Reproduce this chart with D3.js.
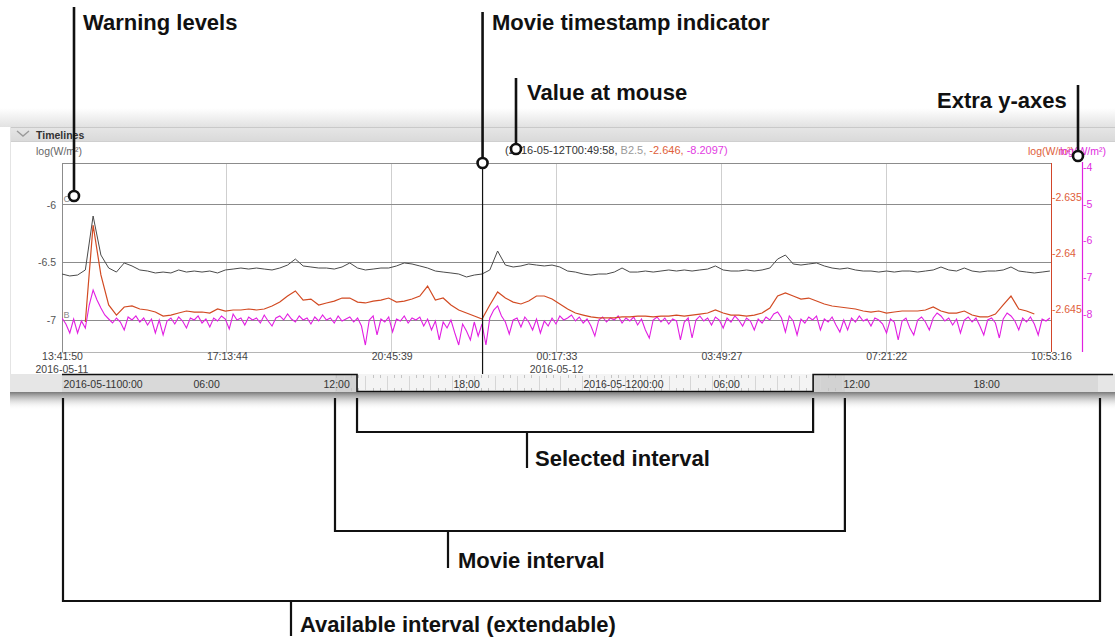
<!DOCTYPE html>
<html><head><meta charset="utf-8">
<script src="https://cdn.jsdelivr.net/npm/d3@7"></script>
<style>
html,body{margin:0;padding:0;background:#fff;}
svg{display:block;font-family:"Liberation Sans",Arial,Helvetica,sans-serif;}
</style></head><body>
<svg id="c" width="1115" height="639"></svg>
<script>
// ---------- data ----------
const plotStart = "2016-05-11T13:41:50Z";
const plotEnd   = "2016-05-12T10:53:16Z";
const xTickTimes = ["2016-05-11T13:41:50Z","2016-05-11T17:13:44Z","2016-05-11T20:45:39Z","2016-05-12T00:17:33Z","2016-05-12T03:49:27Z","2016-05-12T07:21:22Z","2016-05-12T10:53:16Z"];
const xTickDates = ["2016-05-11","","","2016-05-12","","",""];
const leftTicks = [-6, -6.5, -7];
const leftTickLabels = ["-6","-6.5","-7"];
const warningLevels = [{label:"C", value:-6},{label:"B", value:-7}];
const redTicks = [-2.635, -2.64, -2.645];
const redTickLabels = ["-2.635","-2.64","-2.645"];
const magTicks = [-4, -5, -6, -7, -8];
const magTickLabels = ["-4","-5","-6","-7","-8"];

// grey series (left axis), 10-minute samples from plotStart
const greyStart = "2016-05-11T13:41:50Z", greyStepMin = 10;
const greyValues = [
-6.600,-6.617,-6.609,-6.565,-6.096,-6.435,-6.548,-6.583,-6.504,-6.530,
-6.565,-6.574,-6.591,-6.583,-6.591,-6.565,-6.583,-6.574,-6.583,-6.574,
-6.591,-6.565,-6.557,-6.548,-6.557,-6.548,-6.557,-6.565,-6.548,-6.522,
-6.470,-6.530,-6.539,-6.548,-6.548,-6.557,-6.539,-6.504,-6.548,-6.565,
-6.557,-6.548,-6.548,-6.530,-6.504,-6.513,-6.530,-6.548,-6.574,-6.583,
-6.591,-6.600,-6.626,-6.609,-6.600,-6.565,-6.400,-6.522,-6.539,-6.530,
-6.513,-6.522,-6.530,-6.522,-6.539,-6.574,-6.583,-6.600,-6.609,-6.600,
-6.600,-6.583,-6.548,-6.583,-6.583,-6.574,-6.583,-6.574,-6.565,-6.574,
-6.565,-6.574,-6.565,-6.557,-6.530,-6.565,-6.574,-6.574,-6.565,-6.574,
-6.565,-6.548,-6.470,-6.435,-6.513,-6.522,-6.513,-6.504,-6.530,-6.548,
-6.557,-6.548,-6.565,-6.574,-6.574,-6.583,-6.574,-6.583,-6.574,-6.574,
-6.583,-6.574,-6.565,-6.539,-6.565,-6.574,-6.548,-6.574,-6.583,-6.574,
-6.574,-6.565,-6.539,-6.574,-6.583,-6.591,-6.583,-6.574];

// orange series (red right axis), 10-minute samples
const orangeStart = "2016-05-11T14:11:50Z", orangeStepMin = 10;
const orangeValues = [
-2.64616,-2.63750,-2.64196,-2.64464,-2.64554,-2.64482,-2.64473,-2.64500,-2.64509,-2.64527,
-2.64563,-2.64554,-2.64536,-2.64518,-2.64527,-2.64527,-2.64536,-2.64500,-2.64518,-2.64509,
-2.64509,-2.64500,-2.64509,-2.64500,-2.64473,-2.64438,-2.64384,-2.64339,-2.64420,-2.64411,
-2.64464,-2.64446,-2.64429,-2.64402,-2.64402,-2.64438,-2.64446,-2.64429,-2.64420,-2.64402,
-2.64438,-2.64429,-2.64411,-2.64384,-2.64295,-2.64420,-2.64402,-2.64464,-2.64509,-2.64536,
-2.64563,-2.64589,-2.64464,-2.64348,-2.64402,-2.64438,-2.64455,-2.64429,-2.64384,-2.64384,
-2.64411,-2.64455,-2.64500,-2.64536,-2.64554,-2.64571,-2.64580,-2.64580,-2.64580,-2.64571,
-2.64571,-2.64563,-2.64563,-2.64571,-2.64563,-2.64563,-2.64554,-2.64563,-2.64554,-2.64545,
-2.64536,-2.64509,-2.64536,-2.64554,-2.64554,-2.64563,-2.64554,-2.64536,-2.64491,-2.64384,
-2.64357,-2.64384,-2.64411,-2.64402,-2.64429,-2.64455,-2.64473,-2.64482,-2.64491,-2.64500,
-2.64518,-2.64527,-2.64518,-2.64536,-2.64527,-2.64518,-2.64518,-2.64518,-2.64509,-2.64482,
-2.64518,-2.64536,-2.64536,-2.64518,-2.64554,-2.64571,-2.64571,-2.64545,-2.64464,-2.64384,
-2.64500,-2.64518,-2.64545];

// magenta series (magenta right axis), 5-minute samples
const magStart = "2016-05-11T13:41:50Z", magStepMin = 5;
const magValues = [
-8.109,-8.272,-8.517,-8.136,-8.517,-8.190,-8.381,-7.755,-7.347,-7.619,
-7.837,-8.027,-8.136,-8.245,-8.109,-8.218,-8.435,-8.082,-8.163,-8.054,
-8.218,-8.109,-8.299,-8.136,-8.517,-8.163,-8.571,-8.190,-8.109,-8.272,
-8.082,-8.190,-8.381,-8.109,-8.163,-8.054,-8.245,-8.136,-8.354,-8.109,
-8.190,-8.054,-8.136,-8.408,-8.000,-8.163,-8.109,-8.299,-8.082,-8.163,
-8.109,-8.245,-8.027,-8.190,-8.327,-8.109,-8.054,-8.163,-8.000,-8.136,
-8.218,-8.054,-8.163,-8.109,-8.272,-8.082,-8.190,-8.027,-8.163,-8.109,
-8.245,-8.054,-8.190,-8.136,-8.082,-8.218,-8.109,-8.327,-8.844,-8.163,
-8.054,-8.571,-8.136,-8.218,-8.082,-8.490,-8.136,-8.190,-8.054,-8.245,
-8.109,-8.163,-8.082,-8.327,-8.136,-8.435,-8.190,-8.707,-8.218,-8.381,
-8.163,-8.517,-8.844,-8.272,-8.463,-8.707,-8.218,-8.599,-8.272,-8.844,
-8.109,-7.891,-7.782,-8.054,-8.218,-8.544,-8.163,-8.109,-8.354,-8.082,
-8.218,-8.435,-8.136,-8.517,-8.190,-8.327,-8.109,-8.272,-8.054,-8.163,
-8.109,-8.027,-8.190,-8.082,-8.245,-8.136,-8.327,-8.599,-8.163,-8.082,
-8.218,-8.109,-8.163,-8.054,-8.245,-8.109,-8.190,-8.082,-8.299,-8.136,
-8.435,-8.653,-8.163,-8.082,-8.218,-8.109,-8.272,-8.136,-8.190,-8.707,
-8.218,-8.109,-8.653,-8.163,-8.054,-8.190,-8.109,-8.299,-8.082,-8.163,
-8.381,-8.109,-8.218,-8.054,-8.163,-8.327,-8.109,-8.190,-8.435,-8.136,
-8.245,-8.082,-8.163,-8.000,-7.946,-8.109,-8.490,-8.054,-8.190,-8.571,
-8.136,-8.245,-8.082,-8.163,-8.054,-8.435,-8.136,-8.218,-8.082,-8.299,
-8.490,-8.163,-8.435,-8.109,-8.218,-8.054,-8.190,-8.136,-8.327,-8.109,
-8.163,-8.272,-8.517,-8.136,-8.218,-8.707,-8.190,-8.109,-8.381,-8.571,
-8.163,-8.082,-8.218,-8.435,-8.109,-7.973,-8.054,-8.190,-8.109,-8.299,
-8.136,-8.517,-8.163,-8.082,-8.218,-8.109,-8.327,-8.571,-8.163,-8.109,
-8.245,-8.653,-8.136,-7.973,-8.054,-8.190,-8.435,-8.109,-8.218,-8.082,
-8.272,-8.571,-8.136,-8.190,-8.109];

const movieTime = "2016-05-11T22:42:30Z";
const mouseParts = [["(2016-05-12T00:49:58, ","#333"],["B2.5, ","#999"],["-2.646, ","#e0603a"],["-8.2097)","#e23ce2"]];

const barStart = "2016-05-11T00:00:00Z", barEnd = "2016-05-13T00:00:00Z";
const barTickTimes = ["2016-05-11T00:00:00Z","2016-05-11T06:00:00Z","2016-05-11T12:00:00Z","2016-05-11T18:00:00Z","2016-05-12T00:00:00Z","2016-05-12T06:00:00Z","2016-05-12T12:00:00Z","2016-05-12T18:00:00Z"];
const barTickLabels = ["2016-05-1100:00","06:00","12:00","18:00","2016-05-1200:00","06:00","12:00","18:00"];
const selectedInterval = ["2016-05-11T13:37:00Z","2016-05-12T10:40:00Z"];
const movieInterval = ["2016-05-11T12:36:00Z","2016-05-12T12:08:00Z"];
const availableInterval = ["2016-05-11T00:00:00Z","2016-05-13T00:00:00Z"];

// ---------- drawing ----------
const P = d3.isoParse;
const svg = d3.select("#c");
const L = 62, R = 1051, T = 163, B = 352;
const x = d3.scaleUtc().domain([P(plotStart), P(plotEnd)]).range([L, R]);
const yL = d3.scaleLinear().domain([-7.278, -5.635]).range([B, T]);
const yR = d3.scaleLinear().domain([-2.64884, -2.63196]).range([B, T]);
const yM = d3.scaleLinear().domain([-9.034, -3.891]).range([B, T]);
const xb = d3.scaleUtc().domain([P(barStart), P(barEnd)]).range([62, 1102]);

const defs = svg.append("defs");
function vgrad(id, stops){
  const g = defs.append("linearGradient").attr("id", id).attr("x1",0).attr("y1",0).attr("x2",0).attr("y2",1);
  stops.forEach(s => g.append("stop").attr("offset", s[0]).attr("stop-color", s[1]).attr("stop-opacity", s[2] == null ? 1 : s[2]));
}
vgrad("topShadow", [[0,"#ffffff"],[1,"#e2e2e2"]]);
vgrad("header", [[0,"#e6e6e6"],[1,"#d9d9d9"]]);
vgrad("botShadow", [[0,"#6a6a6a",0.9],[0.35,"#a0a0a0",0.6],[1,"#ffffff",0]]);
defs.append("clipPath").attr("id","plotClip").append("rect").attr("x",L).attr("y",T).attr("width",R-L).attr("height",B-T);

// panel chrome
svg.append("rect").attr("x",0).attr("y",108).attr("width",1115).attr("height",19).attr("fill","url(#topShadow)");
svg.append("rect").attr("x",10).attr("y",127).attr("width",1105).attr("height",15).attr("fill","url(#header)");
svg.append("line").attr("x1",10).attr("x2",1115).attr("y1",127.5).attr("y2",127.5).attr("stroke","#c9c9c9");
svg.append("line").attr("x1",10).attr("x2",1115).attr("y1",141.5).attr("y2",141.5).attr("stroke","#cfcfcf");
svg.append("line").attr("x1",10.5).attr("x2",10.5).attr("y1",127).attr("y2",392).attr("stroke","#e4e4e4");
svg.append("path").attr("d","M17,131 L23,136 L29,131").attr("fill","none").attr("stroke","#9a9a9a").attr("stroke-width",1.4);
svg.append("text").attr("x",36).attr("y",138.5).attr("font-size",10.5).attr("font-weight","bold").attr("fill","#333").text("Timelines");

// gridlines
const g = svg.append("g");
g.selectAll(".vg").data(xTickTimes.slice(1, -1)).enter().append("line")
  .attr("x1", d => x(P(d))).attr("x2", d => x(P(d))).attr("y1", T).attr("y2", B)
  .attr("stroke", "#cfcfcf").attr("stroke-width", 1).attr("shape-rendering","crispEdges");
g.selectAll(".hg").data(leftTicks).enter().append("line")
  .attr("x1", L).attr("x2", R).attr("y1", d => yL(d)).attr("y2", d => yL(d))
  .attr("stroke", "#8c8c8c").attr("stroke-width", 1).attr("shape-rendering","crispEdges");
// plot border
g.append("line").attr("x1",L).attr("x2",R).attr("y1",T).attr("y2",T).attr("stroke","#8c8c8c").attr("shape-rendering","crispEdges");
g.append("line").attr("x1",L).attr("x2",R).attr("y1",B).attr("y2",B).attr("stroke","#b5b5b5").attr("shape-rendering","crispEdges");
g.append("line").attr("x1",L).attr("x2",L).attr("y1",T).attr("y2",B).attr("stroke","#8c8c8c").attr("shape-rendering","crispEdges");

// warning level letters
g.selectAll(".wl").data(warningLevels).enter().append("text")
  .attr("x", L + 1.5).attr("y", d => yL(d.value) - 2.5).attr("font-size", 9).attr("fill", "#8a8a8a").text(d => d.label);

// series
function series(start, stepMin, vals){
  const t0 = P(start).getTime();
  return vals.map((v, i) => ({t: new Date(t0 + i * stepMin * 60000), v}));
}
const clip = svg.append("g").attr("clip-path","url(#plotClip)");
clip.append("path").datum(series(magStart, magStepMin, magValues))
  .attr("d", d3.line().x(d => x(d.t)).y(d => yM(d.v)))
  .attr("fill","none").attr("stroke","#e21fe2").attr("stroke-width",1.1);
clip.append("path").datum(series(orangeStart, orangeStepMin, orangeValues))
  .attr("d", d3.line().x(d => x(d.t)).y(d => yR(d.v)))
  .attr("fill","none").attr("stroke","#d24a22").attr("stroke-width",1.2);
clip.append("path").datum(series(greyStart, greyStepMin, greyValues))
  .attr("d", d3.line().x(d => x(d.t)).y(d => yL(d.v)))
  .attr("fill","none").attr("stroke","#4a4a4a").attr("stroke-width",1);

// left axis
const axL = svg.append("g").attr("transform",`translate(${L},0)`)
  .call(d3.axisLeft(yL).tickValues(leftTicks).tickSize(0).tickPadding(6).tickFormat((d,i) => leftTickLabels[i]));
axL.select(".domain").remove();
axL.selectAll("text").attr("font-size",10.5).attr("fill","#555").attr("font-family","Liberation Sans, Arial, sans-serif");

// red axis
const axR = svg.append("g").attr("transform",`translate(${R},0)`)
  .call(d3.axisRight(yR).tickValues(redTicks).tickSize(0).tickPadding(1).tickFormat((d,i) => redTickLabels[i]));
axR.select(".domain").attr("stroke","#d2452a").attr("d",`M0.5,${T}V${B}`);
axR.selectAll("text").attr("font-size",10.5).attr("fill","#e0603a").attr("font-family","Liberation Sans, Arial, sans-serif");

// magenta axis
const MX = 1082;
const axM = svg.append("g").attr("transform",`translate(${MX},0)`)
  .call(d3.axisRight(yM).tickValues(magTicks).tickSize(0).tickPadding(1).tickFormat((d,i) => magTickLabels[i]));
axM.select(".domain").attr("stroke","#e021e0").attr("stroke-width",1.2).attr("d",`M0.5,${T-1}V${B}`);
axM.selectAll("text").attr("font-size",10.5).attr("fill","#e02ce0").attr("font-family","Liberation Sans, Arial, sans-serif");

// x axis
const axX = svg.append("g").attr("transform",`translate(0,${B})`)
  .call(d3.axisBottom(x).tickValues(xTickTimes.map(P)).tickSize(0).tickPadding(1).tickFormat(d3.utcFormat("%H:%M:%S")));
axX.select(".domain").remove();
axX.selectAll("text").attr("font-size",10.5).attr("fill","#444").attr("font-family","Liberation Sans, Arial, sans-serif");
svg.selectAll(".xd").data(xTickTimes.filter((d,i) => xTickDates[i])).enter().append("text")
  .attr("x", d => x(P(d))).attr("y", B + 20.5).attr("text-anchor","middle").attr("font-size",10.5).attr("fill","#444")
  .text(d => xTickDates[xTickTimes.indexOf(d)]);

// axis titles
svg.append("text").attr("x",36).attr("y",155).attr("font-size",10.5).attr("fill","#666").text("log(W/m²)");
svg.append("text").attr("x",1028).attr("y",155).attr("font-size",10.5).attr("fill","#e0603a").text("log(W/m²)");
svg.append("text").attr("x",1106).attr("y",155).attr("text-anchor","end").attr("font-size",10.5).attr("fill","#e02ce0").text("log(W/m²)");

// value at mouse
const mt = svg.append("text").attr("x",505).attr("y",154).attr("font-size",11);
mouseParts.forEach(p => mt.append("tspan").attr("fill", p[1]).attr("xml:space","preserve").text(p[0]));
mt.style("white-space","pre");

// timeline bar
const BT = 374, BB = 392;
const bar = svg.append("g");
bar.append("rect").attr("x",10).attr("y",BT).attr("width",1105).attr("height",BB-BT).attr("fill","#e6e6e6");
bar.append("rect").attr("x",xb(P(availableInterval[0]))).attr("y",BT).attr("width",xb(P(availableInterval[1]))-xb(P(availableInterval[0]))-4).attr("height",BB-BT).attr("fill","#d9d9d9");
bar.append("rect").attr("x",xb(P(movieInterval[0]))).attr("y",BT).attr("width",xb(P(movieInterval[1]))-xb(P(movieInterval[0]))).attr("height",BB-BT).attr("fill","#d2d2d2");
const s0 = xb(P(selectedInterval[0])), s1 = xb(P(selectedInterval[1]));
bar.append("rect").attr("x",s0).attr("y",BT).attr("width",s1-s0).attr("height",BB-BT).attr("fill","#f4f4f4");
// ruler ticks in selected / movie intervals
const rulerTimes = d3.utcMinute.every(20).range(P(movieInterval[0]), P(movieInterval[1]));
bar.selectAll(".rt").data(rulerTimes).enter().append("line")
  .attr("x1", d => Math.round(xb(d)) + 0.5).attr("x2", d => Math.round(xb(d)) + 0.5)
  .attr("y1", d => d.getUTCMinutes() === 0 ? BT + 2 : BT + 1).attr("y2", d => d.getUTCMinutes() === 0 ? BB - 2 : BT + 4)
  .attr("stroke", d => d.getUTCMinutes() === 0 ? "#d6d6d6" : "#c4c4c4").attr("stroke-width",1);
bar.selectAll(".rb").data(rulerTimes.filter(d => d.getUTCMinutes() !== 0)).enter().append("line")
  .attr("x1", d => Math.round(xb(d)) + 0.5).attr("x2", d => Math.round(xb(d)) + 0.5)
  .attr("y1", BB - 4).attr("y2", BB - 1).attr("stroke","#c4c4c4");
bar.selectAll(".bl").data(barTickTimes).enter().append("text")
  .attr("x", d => xb(P(d)) + 1.5).attr("y", BT + 14).attr("font-size",10.5).attr("fill","#333")
  .text((d,i) => barTickLabels[i]);
bar.append("path").attr("d",`M${xb(P(availableInterval[0]))},${BT+0.5}H${s0}V${BB-0.5}H${s1}V${BT+0.5}H1113`)
  .attr("fill","none").attr("stroke","#111").attr("stroke-width",1.6);
svg.append("rect").attr("x",10).attr("y",BB).attr("width",1105).attr("height",18).attr("fill","url(#botShadow)");

// movie timestamp indicator
svg.append("line").attr("x1", x(P(movieTime))).attr("x2", x(P(movieTime))).attr("y1", T).attr("y2", BT)
  .attr("stroke","#111").attr("stroke-width",1.2);

// ---------- annotations ----------
const ann = svg.append("g");
const AF = 22;
function callout(lx, y1, y2, cy, tx, ty, label){
  ann.append("line").attr("x1",lx).attr("x2",lx).attr("y1",y1).attr("y2",y2).attr("stroke","#111").attr("stroke-width",2.6);
  ann.append("circle").attr("cx",lx).attr("cy",cy).attr("r",5).attr("fill","#fff").attr("stroke","#111").attr("stroke-width",2.6);
  ann.append("text").attr("x",tx).attr("y",ty).attr("font-size",AF).attr("font-weight","bold").attr("fill","#111").text(label);
}
callout(74, 7, 191, 196, 83, 30, "Warning levels");
callout(x(P(movieTime)), 12, 158, 163, 492, 30, "Movie timestamp indicator");
callout(516, 78, 144, 149, 527, 100, "Value at mouse");
callout(1078, 85, 151, 156, 937, 108, "Extra y-axes");

function bracket(a, b, yTop, yH, stemX, stemBottom, tx, ty, label){
  ann.append("path").attr("d",`M${a},${yTop}V${yH}H${b}V${yTop}M${stemX},${yH}V${stemBottom}`)
    .attr("fill","none").attr("stroke","#111").attr("stroke-width",2.2);
  ann.append("text").attr("x",tx).attr("y",ty).attr("font-size",AF).attr("font-weight","bold").attr("fill","#111").text(label);
}
bracket(s0, s1, 398, 432, 527, 468, 535, 466, "Selected interval");
bracket(xb(P(movieInterval[0])), xb(P(movieInterval[1])), 398, 531, 448, 568, 458, 568, "Movie interval");
bracket(xb(P(availableInterval[0])) + 1, xb(P(availableInterval[1])) - 2, 398, 601, 291, 636, 300, 632, "Available interval (extendable)");
</script>
</body></html>
